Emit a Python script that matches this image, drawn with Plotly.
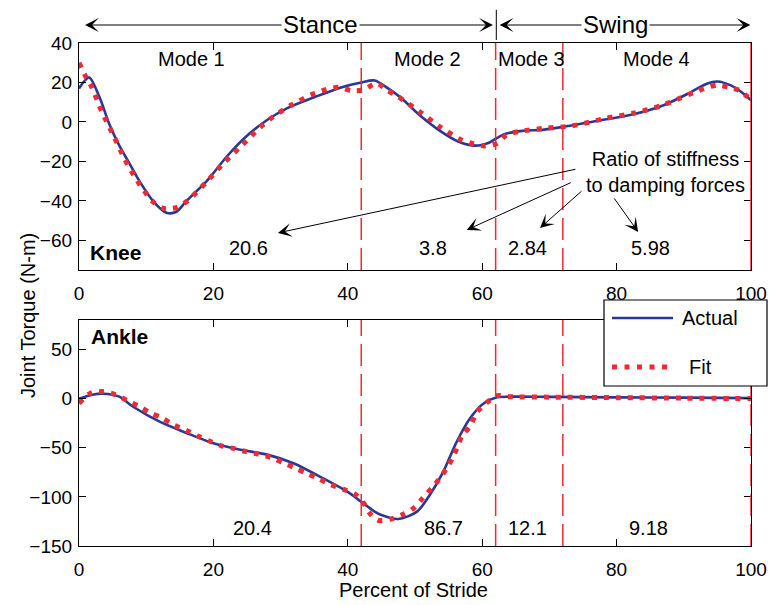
import plotly.graph_objects as go
from plotly.subplots import make_subplots

# ---------------- data ----------------
knee_actual_pct = [0, 1.5, 3, 4.5, 6, 7.5, 9, 11, 13, 14.5, 16, 19, 22, 25, 28, 31, 35, 39, 42, 44,
                   46, 48, 50.5, 53.5, 56.5, 59, 61, 62, 63.5, 66, 69, 72, 77, 82, 87, 91, 93.5, 95,
                   97, 99, 100]
knee_actual = [17, 22.5, 13, -1, -12, -21, -30, -40, -46, -45.5, -40, -30, -17.5, -7, 1, 7, 12.5,
               17.5, 20, 21, 17, 12, 4, -4, -10, -12, -10.5, -8.5, -6, -4.5, -4, -2.5, 0.5, 3.5,
               8.5, 15, 19.5, 20.5, 18.5, 14, 11]

knee_fit_pct = [0, 1.0, 1.9, 3.4, 5.1, 6.8, 8.6, 11, 12.5, 14.5, 16.3, 19, 21.5, 24.2, 26.9, 28.4,
                31.6, 35.1, 38.6, 40.6, 42.3, 44.3, 45.8, 47.5, 50.7, 53.7, 56.9, 58.7, 60.4, 62.2,
                63.6, 65.4, 69.3, 73.3, 78.5, 82.5, 86.5, 89.4, 91.4, 94.9, 96.6, 98.4, 100]
knee_fit = [30, 23, 17.6, 5.2, -6.6, -18.9, -29.4, -40.4, -43.7, -43.4, -39.5, -30.2, -20.9, -12,
            -2.9, 1.4, 8.6, 14.5, 17.6, 15.8, 16.2, 19.6, 16.2, 12.8, 5.2, -2.4, -9.1, -11.1, -12.2,
            -10.8, -6.6, -4.9, -3.2, -2, 1.9, 4.4, 8.1, 12, 14.8, 18.7, 17.6, 15.8, 11]

ankle_actual_pct = [0, 2, 3.6, 6, 8, 12, 16, 20, 24, 28, 32, 36, 40, 42, 44, 45, 47.5, 50.3, 52.2,
                    54.2, 56.2, 58.2, 60.2, 62.2, 64, 70, 80, 90, 100]
ankle_actual = [0, 4, 5, 2, -8, -23.5, -35, -45.5, -52, -57, -66, -80, -95, -105, -115, -118.5,
                -122.5, -115, -98, -74.5, -44, -20, -5, 1.3, 2, 1.8, 1.3, 1, 0.5]

ankle_fit_pct = [0, 1.7, 3.7, 5.5, 7.3, 9, 10.6, 12.4, 14.1, 15.9, 17.6, 19.4, 21.2, 23, 24.9, 26.7,
                 28.7, 30.4, 32.1, 33.9, 35.6, 37.4, 39.3, 41.1, 42.3, 43.3, 44.5, 46.3, 48, 49.7,
                 51.2, 52.5, 53.7, 54.7, 55.7, 57, 58.2, 59.2, 60.7, 62.2, 64, 70, 80, 90, 100]
ankle_fit = [-4.8, 5.4, 7.1, 3.7, -2.4, -8.2, -14.3, -20, -26.9, -32, -37.8, -43.2, -48, -50.7, -54,
             -56.5, -60.2, -65.3, -70.4, -76.2, -81.3, -87.4, -92.2, -97.3, -105.8, -117, -123.8,
             -122.8, -118.5, -112, -101, -91, -81, -71, -59, -38, -28, -14, -4, 3, 2, 1.5, 1, 0.5,
             0]

mode_bounds = [42, 62, 72, 100]
mode_names = ["Mode 1", "Mode 2", "Mode 3", "Mode 4"]
mode_label_x = [16.8, 51.8, 67.4, 85.9]
knee_ratios = ["20.6", "3.8", "2.84", "5.98"]
knee_ratio_x = [25.2, 52.7, 66.7, 85.0]
ankle_ratios = ["20.4", "86.7", "12.1", "9.18"]
ankle_ratio_x = [25.8, 54.2, 66.8, 84.8]

x_ticks = [0, 20, 40, 60, 80, 100]
knee_ticks = [-60, -40, -20, 0, 20, 40]
ankle_ticks = [-150, -100, -50, 0, 50]

# ---------------- style ----------------
BLUE = "#2a3795"
RED = "#ee2a33"
FONT = "Liberation Sans, Arial, sans-serif"

fig = make_subplots(rows=2, cols=1, vertical_spacing=0.0994, shared_xaxes=False)
fig.update_layout(yaxis=dict(domain=[0.5487, 1.0]), yaxis2=dict(domain=[0.0, 0.4493]))

for row, (xa, ya, xf, yf) in enumerate([
        (knee_actual_pct, knee_actual, knee_fit_pct, knee_fit),
        (ankle_actual_pct, ankle_actual, ankle_fit_pct, ankle_fit)], start=1):
    fig.add_trace(go.Scatter(x=xa, y=ya, mode="lines", name="Actual",
                             line=dict(color=BLUE, width=2.6, shape="spline", smoothing=0.8),
                             showlegend=False), row=row, col=1)
    fig.add_trace(go.Scatter(x=xf, y=yf, mode="lines", name="Fit",
                             line=dict(color=RED, width=5, dash="5px,7px", shape="spline",
                                       smoothing=0.8),
                             showlegend=False), row=row, col=1)

axis_common = dict(showline=True, linecolor="black", linewidth=1.2, mirror="ticks",
                   ticks="inside", ticklen=7, tickcolor="black", tickwidth=1,
                   showgrid=False, zeroline=False, automargin=False,
                   tickfont=dict(family=FONT, size=19, color="black"))

fig.update_xaxes(range=[0, 100], tickvals=x_ticks, ticklabelstandoff=6, **axis_common)
fig.update_yaxes(ticklabelstandoff=2, **axis_common)
fig.update_yaxes(range=[-75, 40], tickvals=knee_ticks, row=1, col=1)
fig.update_yaxes(range=[-150, 80], tickvals=ankle_ticks, row=2, col=1)

shapes = []
# mode boundaries
for yref in ["y", "y2"]:
    xref = "x" if yref == "y" else "x2"
    for b in mode_bounds:
        if b == 100 and yref == "y":
            dash = "solid"
        else:
            dash = "22px,8px"
        shapes.append(dict(type="line", xref=xref, yref=yref + " domain", x0=b, x1=b,
                           y0=0, y1=1, line=dict(color=RED, width=1.5, dash=dash),
                           layer="above"))

# stance/swing divider tick above top plot
shapes.append(dict(type="line", xref="x", yref="paper", x0=62.1, x1=62.1,
                   y0=1.006, y1=1.066, line=dict(color="black", width=1)))

annotations = []
txt = dict(family=FONT, size=20, color="black")

# mode labels
for name, x in zip(mode_names, mode_label_x):
    annotations.append(dict(x=x, y=31.9, xref="x", yref="y", text=name, showarrow=False,
                            font=txt))
# ratios
for r, x in zip(knee_ratios, knee_ratio_x):
    annotations.append(dict(x=x, y=-63.8, xref="x", yref="y", text=r, showarrow=False, font=txt))
for r, x in zip(ankle_ratios, ankle_ratio_x):
    annotations.append(dict(x=x, y=-131.5, xref="x2", yref="y2", text=r, showarrow=False,
                            font=txt))

annotations.append(dict(x=87.3, y=-25.3, xref="x", yref="y",
                        text="Ratio of stiffness<br>to damping forces", showarrow=False,
                        font=txt, align="center"))

# ratio arrows (head, tail)
ratio_arrows = [((29.6, -56.2), (74.1, -23.8)),
                ((57.7, -54.7), (73.4, -30.4)),
                ((68.6, -53.7), (75.0, -34.4)),
                ((83.2, -55.7), (79.5, -38.0))]
for (hx, hy), (tx, ty) in ratio_arrows:
    annotations.append(dict(x=hx, y=hy, ax=tx, ay=ty, xref="x", yref="y", axref="x", ayref="y",
                            text="", showarrow=True, arrowhead=3, arrowsize=2.3, arrowwidth=1,
                            arrowcolor="black"))

# Knee / Ankle
annotations.append(dict(x=1.3, y=-66.3, xref="x", yref="y", text="<b>Knee</b>", showarrow=False,
                        xanchor="left", yanchor="middle",
                        font=dict(family=FONT, size=21, color="black")))
annotations.append(dict(x=1.5, y=63.3, xref="x2", yref="y2", text="<b>Ankle</b>",
                        showarrow=False, xanchor="left", yanchor="middle",
                        font=dict(family=FONT, size=21, color="black")))

# Stance / Swing arrows
ytop = (546 - 25) / 503
for (hx, tx) in [(0.9, 31.0), (61.6, 31.0), (62.6, 80.0), (99.9, 80.0)]:
    annotations.append(dict(x=hx, y=ytop, xref="x", yref="paper", ax=tx, ay=0,
                            axref="x", ayref="pixel", text="", showarrow=True, arrowhead=3,
                            arrowsize=2.3, arrowwidth=1, arrowcolor="black"))
annotations.append(dict(x=35.9, y=ytop, xref="x", yref="paper", text="Stance", showarrow=False,
                        xanchor="center", yanchor="middle",
                        font=dict(family=FONT, size=24, color="black"), bgcolor="white",
                        borderpad=1))
annotations.append(dict(x=79.8, y=ytop, xref="x", yref="paper", text="Swing", showarrow=False,
                        xanchor="center", yanchor="middle",
                        font=dict(family=FONT, size=24, color="black"), bgcolor="white",
                        borderpad=1))

# axis titles
annotations.append(dict(x=(28 - 79) / 672, y=(546 - 316) / 503, xref="paper", yref="paper",
                        text="Joint Torque (N-m)", textangle=-90, showarrow=False, font=txt,
                        xanchor="center", yanchor="middle"))
annotations.append(dict(x=(413 - 79) / 672, y=(546 - 590) / 503, xref="paper", yref="paper",
                        text="Percent of Stride", showarrow=False, font=txt,
                        xanchor="center", yanchor="middle"))

# manual legend
def px(xp):
    return (xp - 79) / 672


def py(yp):
    return (546 - yp) / 503


shapes.append(dict(type="rect", xref="paper", yref="paper", x0=px(604), x1=px(767),
                   y0=py(386), y1=py(300), line=dict(color="black", width=1.2),
                   fillcolor="white", layer="above"))
shapes.append(dict(type="line", xref="paper", yref="paper", x0=px(612), x1=px(673),
                   y0=py(318), y1=py(318), line=dict(color=BLUE, width=2.6), layer="above"))
shapes.append(dict(type="line", xref="paper", yref="paper", x0=px(612), x1=px(674),
                   y0=py(367), y1=py(367), line=dict(color=RED, width=5, dash="5px,7.5px"),
                   layer="above"))
annotations.append(dict(x=px(680), y=py(318), xref="paper", yref="paper", text="Actual",
                        showarrow=False, xanchor="left", yanchor="middle", font=txt))
annotations.append(dict(x=px(687), y=py(367), xref="paper", yref="paper", text="Fit",
                        showarrow=False, xanchor="left", yanchor="middle", font=txt))

fig.update_layout(
    width=769, height=605,
    margin=dict(l=79, r=18, t=43, b=59),
    paper_bgcolor="white", plot_bgcolor="white",
    shapes=shapes, annotations=annotations,
    showlegend=False,
    font=dict(family=FONT, size=19, color="black"),
)

fig.write_html("out.html")
